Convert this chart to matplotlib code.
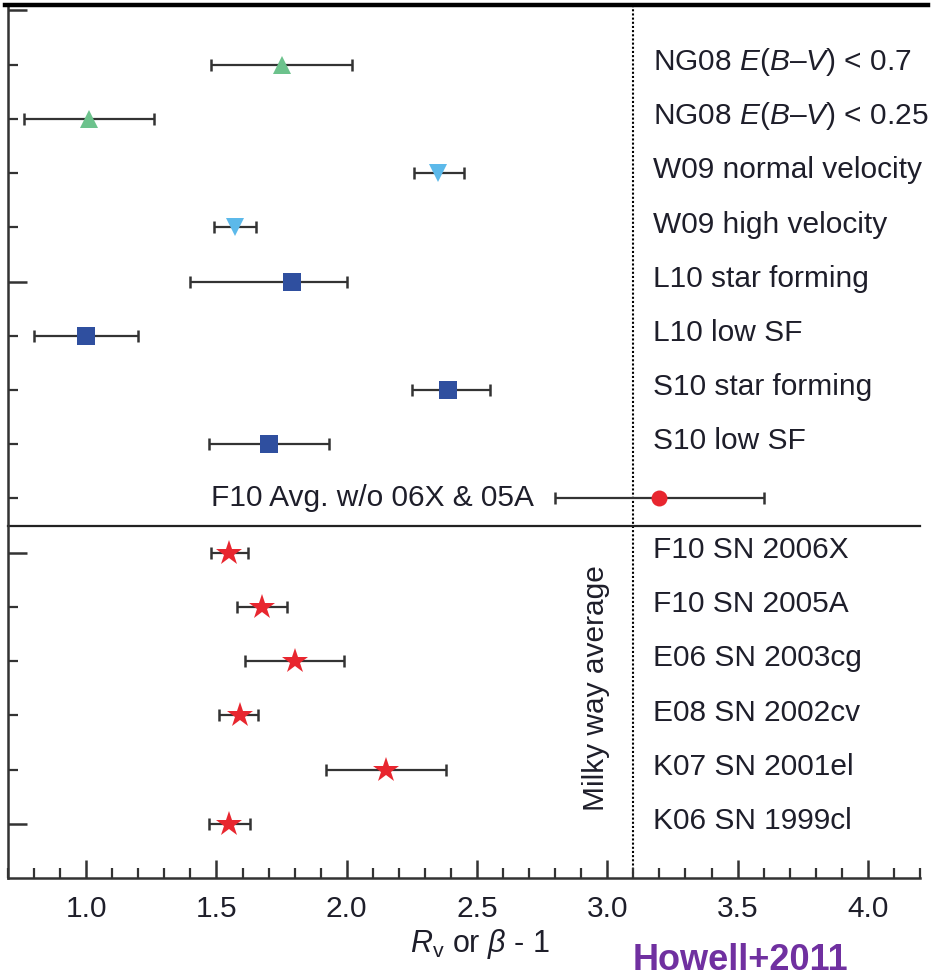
import matplotlib
matplotlib.use("Agg")
import matplotlib.pyplot as plt
from matplotlib.lines import Line2D
from matplotlib.ticker import MultipleLocator, FixedLocator, FuncFormatter

plt.rcParams['font.family'] = ['Liberation Sans', 'DejaVu Sans']
plt.rcParams['mathtext.fontset'] = 'custom'
plt.rcParams['mathtext.rm'] = 'Liberation Sans'
plt.rcParams['mathtext.it'] = 'Liberation Sans:italic'
plt.rcParams['mathtext.bf'] = 'Liberation Sans:bold'

# ---- data (top to bottom) ----
labels = [
    r'NG08 $E$($B$–$V$) < 0.7',
    r'NG08 $E$($B$–$V$) < 0.25',
    'W09 normal velocity',
    'W09 high velocity',
    'L10 star forming',
    'L10 low SF',
    'S10 star forming',
    'S10 low SF',
    'F10 Avg. w/o 06X & 05A',
    'F10 SN 2006X',
    'F10 SN 2005A',
    'E06 SN 2003cg',
    'E08 SN 2002cv',
    'K07 SN 2001el',
    'K06 SN 1999cl',
]
values = [1.75, 1.01, 2.35, 1.57, 1.79, 1.00, 2.39, 1.70, 3.20,
          1.55, 1.675, 1.80, 1.59, 2.15, 1.55]
lower = [1.48, 0.76, 2.26, 1.49, 1.40, 0.80, 2.25, 1.47, 2.80,
         1.48, 1.58, 1.61, 1.51, 1.92, 1.47]
upper = [2.02, 1.26, 2.45, 1.65, 2.00, 1.20, 2.55, 1.93, 3.60,
         1.62, 1.77, 1.99, 1.66, 2.38, 1.63]
markers = ['^', '^', 'v', 'v', 's', 's', 's', 's', 'o',
           '*', '*', '*', '*', '*', '*']
colors = ['#6cc28c', '#6cc28c', '#5cb9ea', '#5cb9ea',
          '#2f4f9f', '#2f4f9f', '#2f4f9f', '#2f4f9f', '#e8262f',
          '#e8262f', '#e8262f', '#e8262f', '#e8262f', '#e8262f', '#e8262f']
msizes = [13, 13, 12.5, 12.5, 12.5, 12.5, 12.5, 12.5, 11.5, 19, 19, 19, 19, 19, 19]
milky_way = 3.1

n = len(labels)
ypos = [n - i for i in range(n)]  # 15 .. 1

fig = plt.figure(figsize=(9.41, 9.80), dpi=100)
ax = fig.add_axes([0.0085, 0.1041, 0.9692, 0.8908])

text_color = '#1e1e2a'
for y, v, lo, hi, m, c, ms in zip(ypos, values, lower, upper, markers, colors, msizes):
    ax.errorbar(v, y, xerr=[[v - lo], [hi - v]], fmt='none', ecolor='#333333',
                elinewidth=1.6, capsize=4.5, capthick=1.8, zorder=2)
    ax.plot(v, y, marker=m, color=c, markersize=ms, markeredgewidth=0, zorder=3,
            linestyle='none')

for i, (y, lab) in enumerate(zip(ypos, labels)):
    if i == 8:
        ax.text(2.72, y, lab, ha='right', va='center', fontsize=21.5, color=text_color)
    else:
        ax.text(3.175, y + 0.05, lab, ha='left', va='center', fontsize=21.5, color=text_color)

ax.axvline(milky_way, color='black', linestyle=(0, (1.0, 1.0)), linewidth=1.5, zorder=1)
ax.plot([0.7, 4.2], [6.5, 6.5], color='#222222', linewidth=1.6, clip_on=False)
ax.text(2.958, 3.5, 'Milky way average', rotation=90, ha='center', va='center',
        fontsize=21.5, color=text_color)

ax.set_xlim(0.7, 4.2)
ax.set_ylim(0, 16.1)

ax.spines['top'].set_visible(False)
ax.spines['right'].set_visible(False)
for s in ['left', 'bottom']:
    ax.spines[s].set_linewidth(1.8)
    ax.spines[s].set_color('#333333')

ax.xaxis.set_major_locator(MultipleLocator(0.5))
ax.xaxis.set_minor_locator(MultipleLocator(0.1))
ax.yaxis.set_major_locator(FixedLocator([1, 6, 11, 16]))
ax.yaxis.set_minor_locator(FixedLocator([2, 3, 4, 5, 7, 8, 9, 10, 12, 13, 14, 15]))
ax.set_yticklabels([])
ax.tick_params(axis='x', which='major', direction='in', length=13, width=1.8,
               color='#333333', labelsize=21.5, pad=12, labelcolor=text_color)
ax.tick_params(axis='x', which='minor', direction='in', length=7, width=1.6, color='#333333')
ax.tick_params(axis='y', which='major', direction='in', length=14, width=1.8, color='#333333')
ax.tick_params(axis='y', which='minor', direction='in', length=7, width=1.6, color='#333333')
ax.xaxis.set_major_formatter(FuncFormatter(lambda v, p: f'{v:.1f}' if v >= 0.99 else ''))

fig.text(480 / 941, 1 - 944 / 980, r'$R_{\rm v}$ or $\beta$ - 1', ha='center', va='center',
         fontsize=22, color=text_color)
fig.text(740 / 941, 1 - 960 / 980, 'Howell+2011', ha='center', va='center',
         fontsize=26, fontweight='bold', color='#7030a0')

fig.add_artist(Line2D([5 / 941, 928 / 941], [1 - 5 / 980, 1 - 5 / 980],
                      transform=fig.transFigure, color='black', linewidth=3.2))

fig.savefig('out.png', dpi=100)
